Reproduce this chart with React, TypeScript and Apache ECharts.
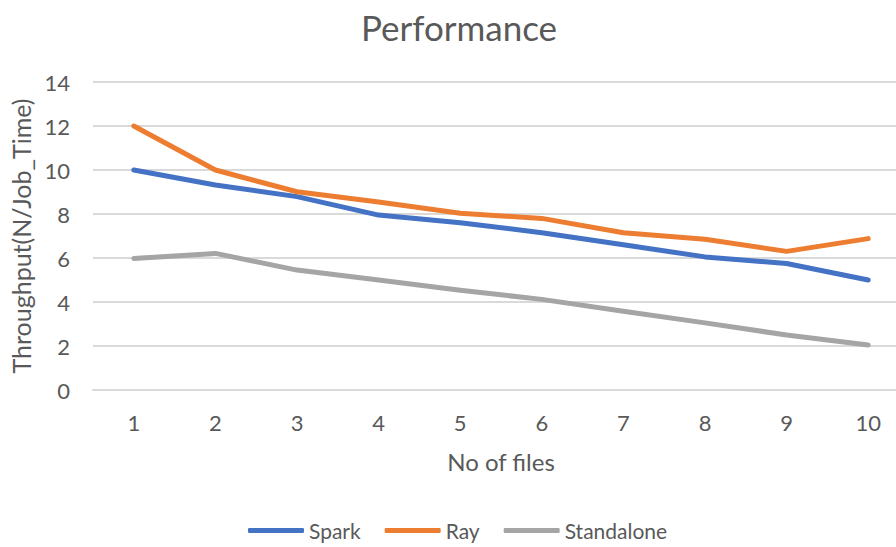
import React, { useEffect, useRef } from "react";
import * as echarts from "echarts";

const categories = ["1", "2", "3", "4", "5", "6", "7", "8", "9", "10"];
const sparkValues = [10.0, 9.32, 8.79, 7.95, 7.6, 7.15, 6.6, 6.05, 5.75, 5.0];
const rayValues = [12.0, 10.0, 9.01, 8.55, 8.03, 7.8, 7.15, 6.85, 6.3, 6.88];
const standaloneValues = [5.98, 6.21, 5.45, 5.0, 4.53, 4.12, 3.58, 3.05, 2.5, 2.05];

const FONT = "Lato, 'Open Sans', sans-serif";
const TEXT = "#595959";
const GRID = "#d9d9d9";

export default function App() {
  const ref = useRef<HTMLDivElement>(null);
  useEffect(() => {
    if (!ref.current) return;
    const chart = echarts.init(ref.current, undefined, { renderer: "svg" });
    const mk = (name: string, data: number[], color: string) => ({
      name,
      type: "line",
      data,
      symbol: "none",
      showSymbol: false,
      lineStyle: { width: 5, color, cap: "round", join: "round" },
      itemStyle: { color },
    });
    chart.setOption({
      animation: false,
      backgroundColor: "#ffffff",
      title: {
        text: "Performance",
        left: 454,
        textAlign: "center",
        top: 4,
        textStyle: { fontFamily: FONT, fontSize: 35, fontWeight: "normal", color: TEXT },
      },
      legend: {
        data: ["Spark", "Ray", "Standalone"],
        left: 243,
        top: 515,
        icon: "roundRect",
        itemWidth: 56,
        itemHeight: 5,
        itemGap: 24,
        textStyle: { fontFamily: FONT, fontSize: 21, color: TEXT },
      },
      grid: { left: 93, top: 82, width: 816, height: 308 },
      xAxis: {
        type: "category",
        data: categories,
        boundaryGap: true,
        name: "No of files",
        nameLocation: "middle",
        nameGap: 59,
        nameTextStyle: { fontFamily: FONT, fontSize: 24, color: TEXT },
        axisLine: { show: true, lineStyle: { color: GRID, width: 2 } },
        axisTick: { show: false },
        axisLabel: { fontFamily: FONT, fontSize: 22, color: TEXT, margin: 21 },
      },
      yAxis: {
        type: "value",
        min: 0,
        max: 14,
        interval: 2,
        name: "Throughput(N/Job_Time)",
        nameLocation: "middle",
        nameGap: 55,
        nameTextStyle: { fontFamily: FONT, fontSize: 25, color: TEXT },
        axisLine: { show: false },
        axisTick: { show: false },
        axisLabel: { fontFamily: FONT, fontSize: 22, color: TEXT, margin: 23 },
        splitLine: { lineStyle: { color: GRID, width: 2 } },
      },
      series: [
        mk("Spark", sparkValues, "#4472C4"),
        mk("Ray", rayValues, "#ED7D31"),
        mk("Standalone", standaloneValues, "#A5A5A5"),
      ],
    });
    return () => chart.dispose();
  }, []);
  return (
    <div style={{ position: "absolute", left: 0, top: 0, width: 896, height: 547, overflow: "hidden" }}>
      <div ref={ref} style={{ width: 930, height: 547 }} />
    </div>
  );
}
